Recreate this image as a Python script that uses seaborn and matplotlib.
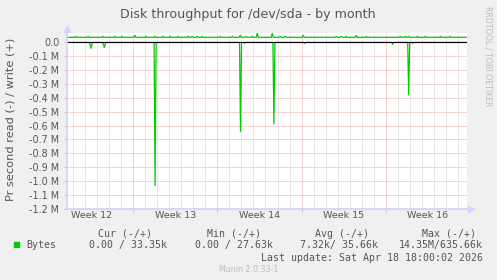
import matplotlib
matplotlib.use("Agg")
import matplotlib.pyplot as plt
import seaborn as sns
import pandas as pd

# ---------------- data ----------------
# time axis: days since Mon 2026-03-23 00:00 (start of Week 13)
x_start, x_end = -5.55, 27.75
week_starts = [0, 7, 14, 21]
week_label_pos = [-3.5, 3.5, 10.5, 17.5, 24.5]
week_labels = ["Week 12", "Week 13", "Week 14", "Week 15", "Week 16"]
day_grid = list(range(-5, 28))

# read (-) spikes: day, bytes/s, half-width in hours
read_days = [-3.53, -2.42, 1.81, 8.92, 9.25, 11.70, 14.25, 21.58, 22.92, 23.25]
read_vals = [-43e3, -36e3, -1034e3, -642e3, -7e3, -587e3, -7e3, -14e3, -378e3, -7e3]
read_hw_h = [3, 3, 2, 2, 2, 2, 2, 2, 2, 2]
read_base = 0.0

# write (+) line: baseline plus small bumps
write_base = 37e3
write_days = [-4.78, -3.78, -2.53, -1.53, -0.94, 0.14, 1.06, 1.81, 2.48, 3.06, 3.72,
              4.56, 4.89, 5.31, 5.72, 7.22, 8.22, 8.89, 9.39, 9.89, 10.31, 11.56,
              12.22, 12.64, 14.14, 16.89, 17.31, 17.72, 18.56, 19.39, 22.22, 22.64,
              22.89, 23.64, 24.31, 25.56, 26.35]
write_vals = [44e3, 44e3, 44e3, 44e3, 44e3, 51e3, 44e3, 44e3, 44e3, 44e3, 44e3,
              44e3, 44e3, 44e3, 44e3, 44e3, 44e3, 51e3, 44e3, 44e3, 66e3, 66e3,
              44e3, 44e3, 51e3, 44e3, 44e3, 44e3, 51e3, 44e3, 44e3, 44e3,
              44e3, 44e3, 44e3, 44e3, 44e3]
write_hw_h = [2] * len(write_days)

yticks = [0.0, -0.1e6, -0.2e6, -0.3e6, -0.4e6, -0.5e6, -0.6e6, -0.7e6,
          -0.8e6, -0.9e6, -1.0e6, -1.1e6, -1.2e6]
ytick_labels = ["0.0", "-0.1 M", "-0.2 M", "-0.3 M", "-0.4 M", "-0.5 M", "-0.6 M",
                "-0.7 M", "-0.8 M", "-0.9 M", "-1.0 M", "-1.1 M", "-1.2 M"]
y_low, y_high = -1.2e6, 0.068e6

legend_headers = ["Cur (-/+)", "Min (-/+)", "Avg (-/+)", "Max (-/+)"]
legend_values = ["0.00 / 33.35k", "0.00 / 27.63k", "7.32k/ 35.66k", "14.35M/635.66k"]
series_name = "Bytes"
last_update = "Last update: Sat Apr 18 18:00:02 2026"
title = "Disk throughput for /dev/sda - by month"
ylabel = "Pr second read (-) / write (+)"


def build(base, days, vals, hws):
    xs, ys = [x_start], [base]
    for d, v, h in sorted(zip(days, vals, hws)):
        hw = h / 24.0
        xs += [d - hw, d, d + hw]
        ys += [base, v, base]
    xs.append(x_end)
    ys.append(base)
    return pd.DataFrame({"day": xs, "bytes": ys})


read_df = build(read_base, read_days, read_vals, read_hw_h)
write_df = build(write_base, write_days, write_vals, write_hw_h)

# ---------------- figure ----------------
sns.set_style("white")
plt.rcParams["font.family"] = ["DejaVu Sans"]

W, H = 497, 280
BG = "#F0F0F0"
FONT = "#555555"
AXC = "#CFD6F8"
MGRID = "#EEAAAA"
GRID = "#D2D2D2"
GREEN = "#00CC00"

fig = plt.figure(figsize=(W / 100, H / 100), dpi=100, facecolor=BG)
pl, pr, pt, pb = 66.7, 466.7, 33.0, 208.7
ax = fig.add_axes([pl / W, 1 - pb / H, (pr - pl) / W, (pb - pt) / H])
ax.set_facecolor("white")

ax.set_xlim(x_start, x_end)
ax.set_ylim(y_low, y_high)

# grids (dotted)
dot = (0, (1, 1))
ax.vlines([d for d in day_grid if d not in week_starts], y_low, y_high,
          colors=GRID, linestyles=dot, linewidth=0.72, zorder=1)
ax.vlines(week_starts, y_low, y_high, colors=MGRID, linestyles=dot,
          linewidth=0.72, zorder=1)
ax.hlines(yticks, x_start, x_end, colors=MGRID, linestyles=dot,
          linewidth=0.72, zorder=1)

# data
sns.lineplot(data=read_df, x="day", y="bytes", ax=ax, color=GREEN, linewidth=0.9,
             estimator=None, sort=False, zorder=3)
sns.lineplot(data=write_df, x="day", y="bytes", ax=ax, color=GREEN, linewidth=0.9,
             estimator=None, sort=False, zorder=3)
ax.axhline(0, color="black", linewidth=0.8, zorder=4)

# axes / ticks
for s in ax.spines.values():
    s.set_visible(False)
ax.plot([0, 0], [0, 1.02], transform=ax.transAxes, color=AXC, lw=1.3,
        clip_on=False, zorder=5)
ax.plot([0, 1.01], [0, 0], transform=ax.transAxes, color=AXC, lw=1.3,
        clip_on=False, zorder=5)
ax.plot([0], [1.0 + 4 / (pb - pt)], marker="^", ms=4.5, color=AXC,
        transform=ax.transAxes, clip_on=False, zorder=5)
ax.plot([1.0 + 4 / (pr - pl)], [0], marker=">", ms=4.5, color=AXC,
        transform=ax.transAxes, clip_on=False, zorder=5)

ax.set_yticks(yticks)
ax.set_yticklabels(ytick_labels)
ax.tick_params(axis="y", which="major", length=2.0, width=0.7, color=MGRID,
               pad=3.3, labelsize=6.9, labelcolor=FONT, left=True)
ax.set_xticks(week_starts)
ax.set_xticklabels([""] * len(week_starts))
ax.set_xticks(week_label_pos, minor=True)
ax.set_xticklabels(week_labels, minor=True)
ax.tick_params(axis="x", which="major", length=2.0, width=0.7, color=MGRID,
               direction="out", bottom=True)
ax.tick_params(axis="x", which="minor", length=0, pad=2.0, labelsize=6.8,
               labelcolor=FONT, bottom=True)
ax.set_xlabel("")
ax.set_ylabel("")


def fx(x):
    return x / W


def fy(y):
    return 1 - y / H


fig.text(fx(248.3), fy(18.3), title, ha="center", va="baseline", fontsize=9.1,
         color=FONT)
fig.text(fx(10.5), fy(119.5), ylabel, ha="center", va="center", rotation=90,
         fontsize=8.2, color=FONT)
fig.text(fx(488.3), fy(56.5), "RRDTOOL / TOBI OETIKER", ha="center", va="center",
         rotation=270, fontsize=5.7, color="#BBBBBB")

mono = dict(family="DejaVu Sans Mono", fontsize=7.1, color=FONT)
header_x = [125.0, 234.0, 342.0, 449.5]
for hx, txt in zip(header_x, legend_headers):
    fig.text(fx(hx), fy(233.7), txt, ha="center", va="center", **mono)
value_right = [166.7, 273.3, 377.7, 482.7]
for vx, txt in zip(value_right, legend_values):
    fig.text(fx(vx), fy(245.3), txt, ha="right", va="center", **mono)
fig.text(fx(26.7), fy(245.3), series_name, ha="left", va="center", **mono)
fig.patches.append(plt.Rectangle((fx(14), fy(247)), 5 / W, 5 / H,
                                 transform=fig.transFigure, color=GREEN))
fig.text(fx(482.7), fy(257.7), last_update, ha="right", va="center", **mono)
fig.text(fx(248.7), fy(269.3), "Munin 2.0.33-1", ha="center", va="center",
         fontsize=5.7, color="#BBBBBB")

fig.savefig("out.png", dpi=100, facecolor=BG)
